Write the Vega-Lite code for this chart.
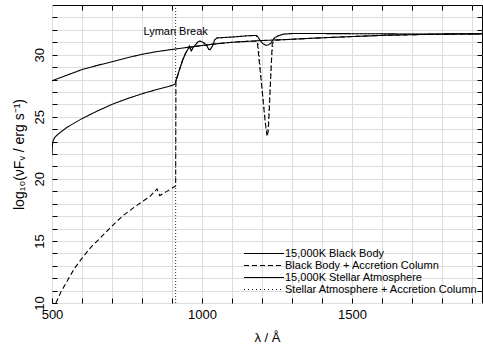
{
  "$schema": "https://vega.github.io/schema/vega-lite/v6.json",
  "width": 430,
  "height": 298,
  "autosize": "none",
  "padding": {"left": 52, "top": 5, "right": 1, "bottom": 47},
  "background": "white",
  "config": {
    "view": {"stroke": "black", "strokeWidth": 1},
    "font": "Liberation Sans",
    "axis": {"domain": false, "labelColor": "black", "titleColor": "black", "labelFont": "Liberation Sans", "titleFont": "Liberation Sans", "titleFontWeight": "normal", "labelFontSize": 13, "titleFontSize": 13}
  },
  "datasets": {
    "spectra": [
      {"lambda": 500, "flux": 27.9, "series": "15,000K Black Body"},
      {"lambda": 550, "flux": 28.35, "series": "15,000K Black Body"},
      {"lambda": 600, "flux": 28.8, "series": "15,000K Black Body"},
      {"lambda": 650, "flux": 29.13, "series": "15,000K Black Body"},
      {"lambda": 700, "flux": 29.43, "series": "15,000K Black Body"},
      {"lambda": 750, "flux": 29.75, "series": "15,000K Black Body"},
      {"lambda": 800, "flux": 30.03, "series": "15,000K Black Body"},
      {"lambda": 850, "flux": 30.25, "series": "15,000K Black Body"},
      {"lambda": 900, "flux": 30.42, "series": "15,000K Black Body"},
      {"lambda": 950, "flux": 30.58, "series": "15,000K Black Body"},
      {"lambda": 1000, "flux": 30.74, "series": "15,000K Black Body"},
      {"lambda": 1050, "flux": 30.88, "series": "15,000K Black Body"},
      {"lambda": 1100, "flux": 31.0, "series": "15,000K Black Body"},
      {"lambda": 1150, "flux": 31.07, "series": "15,000K Black Body"},
      {"lambda": 1200, "flux": 31.14, "series": "15,000K Black Body"},
      {"lambda": 1250, "flux": 31.19, "series": "15,000K Black Body"},
      {"lambda": 1300, "flux": 31.24, "series": "15,000K Black Body"},
      {"lambda": 1400, "flux": 31.36, "series": "15,000K Black Body"},
      {"lambda": 1500, "flux": 31.46, "series": "15,000K Black Body"},
      {"lambda": 1600, "flux": 31.55, "series": "15,000K Black Body"},
      {"lambda": 1700, "flux": 31.61, "series": "15,000K Black Body"},
      {"lambda": 1800, "flux": 31.65, "series": "15,000K Black Body"},
      {"lambda": 1933, "flux": 31.68, "series": "15,000K Black Body"},

      {"lambda": 513, "flux": 10.0, "series": "Black Body + Accretion Column"},
      {"lambda": 530, "flux": 10.9, "series": "Black Body + Accretion Column"},
      {"lambda": 549, "flux": 11.7, "series": "Black Body + Accretion Column"},
      {"lambda": 575, "flux": 12.8, "series": "Black Body + Accretion Column"},
      {"lambda": 604, "flux": 13.73, "series": "Black Body + Accretion Column"},
      {"lambda": 630, "flux": 14.5, "series": "Black Body + Accretion Column"},
      {"lambda": 659, "flux": 15.2, "series": "Black Body + Accretion Column"},
      {"lambda": 690, "flux": 15.95, "series": "Black Body + Accretion Column"},
      {"lambda": 715, "flux": 16.56, "series": "Black Body + Accretion Column"},
      {"lambda": 740, "flux": 17.1, "series": "Black Body + Accretion Column"},
      {"lambda": 770, "flux": 17.64, "series": "Black Body + Accretion Column"},
      {"lambda": 800, "flux": 18.15, "series": "Black Body + Accretion Column"},
      {"lambda": 826, "flux": 18.57, "series": "Black Body + Accretion Column"},
      {"lambda": 850, "flux": 19.19, "series": "Black Body + Accretion Column"},
      {"lambda": 859, "flux": 18.65, "series": "Black Body + Accretion Column"},
      {"lambda": 880, "flux": 18.95, "series": "Black Body + Accretion Column"},
      {"lambda": 909, "flux": 19.38, "series": "Black Body + Accretion Column"},
      {"lambda": 912, "flux": 19.42, "series": "Black Body + Accretion Column"},
      {"lambda": 913, "flux": 27.8, "series": "Black Body + Accretion Column"},
      {"lambda": 925, "flux": 28.8, "series": "Black Body + Accretion Column"},
      {"lambda": 936, "flux": 29.6, "series": "Black Body + Accretion Column"},
      {"lambda": 945, "flux": 30.1, "series": "Black Body + Accretion Column"},
      {"lambda": 952, "flux": 30.4, "series": "Black Body + Accretion Column"},
      {"lambda": 960, "flux": 30.6, "series": "Black Body + Accretion Column"},
      {"lambda": 1000, "flux": 30.74, "series": "Black Body + Accretion Column"},
      {"lambda": 1050, "flux": 30.88, "series": "Black Body + Accretion Column"},
      {"lambda": 1100, "flux": 31.0, "series": "Black Body + Accretion Column"},
      {"lambda": 1150, "flux": 31.07, "series": "Black Body + Accretion Column"},
      {"lambda": 1184, "flux": 31.1, "series": "Black Body + Accretion Column"},
      {"lambda": 1190, "flux": 29.6, "series": "Black Body + Accretion Column"},
      {"lambda": 1200, "flux": 27.2, "series": "Black Body + Accretion Column"},
      {"lambda": 1210, "flux": 24.7, "series": "Black Body + Accretion Column"},
      {"lambda": 1217, "flux": 23.4, "series": "Black Body + Accretion Column"},
      {"lambda": 1221, "flux": 23.9, "series": "Black Body + Accretion Column"},
      {"lambda": 1225, "flux": 26.0, "series": "Black Body + Accretion Column"},
      {"lambda": 1230, "flux": 28.8, "series": "Black Body + Accretion Column"},
      {"lambda": 1234, "flux": 30.9, "series": "Black Body + Accretion Column"},
      {"lambda": 1245, "flux": 31.17, "series": "Black Body + Accretion Column"},
      {"lambda": 1300, "flux": 31.24, "series": "Black Body + Accretion Column"},
      {"lambda": 1400, "flux": 31.36, "series": "Black Body + Accretion Column"},
      {"lambda": 1500, "flux": 31.46, "series": "Black Body + Accretion Column"},
      {"lambda": 1600, "flux": 31.55, "series": "Black Body + Accretion Column"},
      {"lambda": 1700, "flux": 31.61, "series": "Black Body + Accretion Column"},
      {"lambda": 1800, "flux": 31.65, "series": "Black Body + Accretion Column"},
      {"lambda": 1933, "flux": 31.68, "series": "Black Body + Accretion Column"},

      {"lambda": 500, "flux": 21.9, "series": "15,000K Stellar Atmosphere"},
      {"lambda": 501, "flux": 22.6, "series": "15,000K Stellar Atmosphere"},
      {"lambda": 503, "flux": 23.0, "series": "15,000K Stellar Atmosphere"},
      {"lambda": 508, "flux": 23.3, "series": "15,000K Stellar Atmosphere"},
      {"lambda": 520, "flux": 23.6, "series": "15,000K Stellar Atmosphere"},
      {"lambda": 550, "flux": 24.15, "series": "15,000K Stellar Atmosphere"},
      {"lambda": 600, "flux": 24.85, "series": "15,000K Stellar Atmosphere"},
      {"lambda": 650, "flux": 25.45, "series": "15,000K Stellar Atmosphere"},
      {"lambda": 700, "flux": 26.0, "series": "15,000K Stellar Atmosphere"},
      {"lambda": 750, "flux": 26.45, "series": "15,000K Stellar Atmosphere"},
      {"lambda": 800, "flux": 26.85, "series": "15,000K Stellar Atmosphere"},
      {"lambda": 850, "flux": 27.2, "series": "15,000K Stellar Atmosphere"},
      {"lambda": 900, "flux": 27.52, "series": "15,000K Stellar Atmosphere"},
      {"lambda": 910, "flux": 27.62, "series": "15,000K Stellar Atmosphere"},
      {"lambda": 914, "flux": 28.0, "series": "15,000K Stellar Atmosphere"},
      {"lambda": 925, "flux": 28.8, "series": "15,000K Stellar Atmosphere"},
      {"lambda": 936, "flux": 29.6, "series": "15,000K Stellar Atmosphere"},
      {"lambda": 945, "flux": 30.1, "series": "15,000K Stellar Atmosphere"},
      {"lambda": 952, "flux": 30.4, "series": "15,000K Stellar Atmosphere"},
      {"lambda": 958, "flux": 30.7, "series": "15,000K Stellar Atmosphere"},
      {"lambda": 964, "flux": 30.3, "series": "15,000K Stellar Atmosphere"},
      {"lambda": 970, "flux": 30.55, "series": "15,000K Stellar Atmosphere"},
      {"lambda": 975, "flux": 30.7, "series": "15,000K Stellar Atmosphere"},
      {"lambda": 985, "flux": 31.0, "series": "15,000K Stellar Atmosphere"},
      {"lambda": 992, "flux": 31.1, "series": "15,000K Stellar Atmosphere"},
      {"lambda": 1003, "flux": 31.0, "series": "15,000K Stellar Atmosphere"},
      {"lambda": 1014, "flux": 30.8, "series": "15,000K Stellar Atmosphere"},
      {"lambda": 1022, "flux": 30.45, "series": "15,000K Stellar Atmosphere"},
      {"lambda": 1027, "flux": 30.4, "series": "15,000K Stellar Atmosphere"},
      {"lambda": 1035, "flux": 30.7, "series": "15,000K Stellar Atmosphere"},
      {"lambda": 1042, "flux": 31.2, "series": "15,000K Stellar Atmosphere"},
      {"lambda": 1050, "flux": 31.35, "series": "15,000K Stellar Atmosphere"},
      {"lambda": 1100, "flux": 31.42, "series": "15,000K Stellar Atmosphere"},
      {"lambda": 1150, "flux": 31.52, "series": "15,000K Stellar Atmosphere"},
      {"lambda": 1180, "flux": 31.55, "series": "15,000K Stellar Atmosphere"},
      {"lambda": 1185, "flux": 31.48, "series": "15,000K Stellar Atmosphere"},
      {"lambda": 1195, "flux": 31.1, "series": "15,000K Stellar Atmosphere"},
      {"lambda": 1202, "flux": 30.9, "series": "15,000K Stellar Atmosphere"},
      {"lambda": 1213, "flux": 30.75, "series": "15,000K Stellar Atmosphere"},
      {"lambda": 1222, "flux": 30.8, "series": "15,000K Stellar Atmosphere"},
      {"lambda": 1230, "flux": 30.95, "series": "15,000K Stellar Atmosphere"},
      {"lambda": 1241, "flux": 31.35, "series": "15,000K Stellar Atmosphere"},
      {"lambda": 1252, "flux": 31.5, "series": "15,000K Stellar Atmosphere"},
      {"lambda": 1270, "flux": 31.65, "series": "15,000K Stellar Atmosphere"},
      {"lambda": 1300, "flux": 31.7, "series": "15,000K Stellar Atmosphere"},
      {"lambda": 1400, "flux": 31.7, "series": "15,000K Stellar Atmosphere"},
      {"lambda": 1500, "flux": 31.69, "series": "15,000K Stellar Atmosphere"},
      {"lambda": 1600, "flux": 31.68, "series": "15,000K Stellar Atmosphere"},
      {"lambda": 1700, "flux": 31.66, "series": "15,000K Stellar Atmosphere"},
      {"lambda": 1800, "flux": 31.67, "series": "15,000K Stellar Atmosphere"},
      {"lambda": 1933, "flux": 31.68, "series": "15,000K Stellar Atmosphere"},

      {"lambda": 913, "flux": 27.9, "series": "Stellar Atmosphere + Accretion Column"},
      {"lambda": 925, "flux": 28.8, "series": "Stellar Atmosphere + Accretion Column"},
      {"lambda": 936, "flux": 29.6, "series": "Stellar Atmosphere + Accretion Column"},
      {"lambda": 945, "flux": 30.1, "series": "Stellar Atmosphere + Accretion Column"},
      {"lambda": 952, "flux": 30.4, "series": "Stellar Atmosphere + Accretion Column"},
      {"lambda": 958, "flux": 30.7, "series": "Stellar Atmosphere + Accretion Column"},
      {"lambda": 964, "flux": 30.3, "series": "Stellar Atmosphere + Accretion Column"},
      {"lambda": 970, "flux": 30.55, "series": "Stellar Atmosphere + Accretion Column"},
      {"lambda": 975, "flux": 30.7, "series": "Stellar Atmosphere + Accretion Column"},
      {"lambda": 985, "flux": 31.0, "series": "Stellar Atmosphere + Accretion Column"},
      {"lambda": 992, "flux": 31.1, "series": "Stellar Atmosphere + Accretion Column"},
      {"lambda": 1003, "flux": 31.0, "series": "Stellar Atmosphere + Accretion Column"},
      {"lambda": 1014, "flux": 30.8, "series": "Stellar Atmosphere + Accretion Column"},
      {"lambda": 1022, "flux": 30.45, "series": "Stellar Atmosphere + Accretion Column"},
      {"lambda": 1027, "flux": 30.4, "series": "Stellar Atmosphere + Accretion Column"},
      {"lambda": 1035, "flux": 30.7, "series": "Stellar Atmosphere + Accretion Column"},
      {"lambda": 1042, "flux": 31.2, "series": "Stellar Atmosphere + Accretion Column"},
      {"lambda": 1050, "flux": 31.35, "series": "Stellar Atmosphere + Accretion Column"},
      {"lambda": 1100, "flux": 31.42, "series": "Stellar Atmosphere + Accretion Column"},
      {"lambda": 1150, "flux": 31.52, "series": "Stellar Atmosphere + Accretion Column"},
      {"lambda": 1180, "flux": 31.55, "series": "Stellar Atmosphere + Accretion Column"},
      {"lambda": 1186, "flux": 31.2, "series": "Stellar Atmosphere + Accretion Column"},
      {"lambda": 1195, "flux": 28.7, "series": "Stellar Atmosphere + Accretion Column"},
      {"lambda": 1205, "flux": 26.0, "series": "Stellar Atmosphere + Accretion Column"},
      {"lambda": 1213, "flux": 24.0, "series": "Stellar Atmosphere + Accretion Column"},
      {"lambda": 1216, "flux": 23.7, "series": "Stellar Atmosphere + Accretion Column"},
      {"lambda": 1220, "flux": 24.2, "series": "Stellar Atmosphere + Accretion Column"},
      {"lambda": 1226, "flux": 27.0, "series": "Stellar Atmosphere + Accretion Column"},
      {"lambda": 1232, "flux": 29.8, "series": "Stellar Atmosphere + Accretion Column"},
      {"lambda": 1238, "flux": 31.2, "series": "Stellar Atmosphere + Accretion Column"},
      {"lambda": 1252, "flux": 31.5, "series": "Stellar Atmosphere + Accretion Column"},
      {"lambda": 1270, "flux": 31.65, "series": "Stellar Atmosphere + Accretion Column"},
      {"lambda": 1300, "flux": 31.7, "series": "Stellar Atmosphere + Accretion Column"},
      {"lambda": 1400, "flux": 31.7, "series": "Stellar Atmosphere + Accretion Column"},
      {"lambda": 1500, "flux": 31.69, "series": "Stellar Atmosphere + Accretion Column"},
      {"lambda": 1600, "flux": 31.68, "series": "Stellar Atmosphere + Accretion Column"},
      {"lambda": 1700, "flux": 31.66, "series": "Stellar Atmosphere + Accretion Column"},
      {"lambda": 1800, "flux": 31.67, "series": "Stellar Atmosphere + Accretion Column"},
      {"lambda": 1933, "flux": 31.68, "series": "Stellar Atmosphere + Accretion Column"}
    ],
    "marker": [
      {"lambda": 912, "label": "Lyman Break"}
    ]
  },
  "layer": [
    {
      "data": {"name": "spectra"},
      "mark": {"type": "line", "color": "black", "strokeWidth": 1.1, "clip": true},
      "encoding": {
        "x": {
          "field": "lambda", "type": "quantitative",
          "scale": {"domain": [500, 1933], "nice": false, "zero": false},
          "axis": {
            "orient": "bottom", "format": "d",
            "values": [500, 600, 700, 800, 900, 1000, 1100, 1200, 1300, 1400, 1500, 1600, 1700, 1800, 1900],
            "labelExpr": "datum.value % 500 === 0 ? datum.label : ''",
            "offset": -5, "ticks": true, "tickSize": 5, "tickColor": "#000000",
            "labelPadding": 5, "labelFlush": false, "labelOverlap": false,
            "title": "λ / Å", "titlePadding": 10
          }
        },
        "y": {
          "field": "flux", "type": "quantitative",
          "scale": {"domain": [10, 34], "nice": false, "zero": false},
          "axis": {
            "orient": "left", "format": "d",
            "values": [10, 11, 12, 13, 14, 15, 16, 17, 18, 19, 20, 21, 22, 23, 24, 25, 26, 27, 28, 29, 30, 31, 32, 33],
            "labelExpr": "datum.value % 5 === 0 ? datum.label : ''",
            "offset": -5, "ticks": true, "tickSize": 5, "tickColor": "#000000",
            "labelAngle": 270, "labelAlign": "center", "labelBaseline": "bottom",
            "labelPadding": 6, "labelFlush": false, "labelOverlap": false,
            "title": "log₁₀(νFᵥ / erg s⁻¹)", "titleFontSize": 14, "titlePadding": 7
          }
        },
        "strokeDash": {
          "field": "series", "type": "nominal",
          "scale": {
            "domain": ["15,000K Black Body", "Black Body + Accretion Column", "15,000K Stellar Atmosphere", "Stellar Atmosphere + Accretion Column"],
            "range": [[1, 0], [5, 3], [1, 0], [1, 3]]
          },
          "legend": {
            "orient": "none", "legendX": 186, "legendY": 242.5, "title": null,
            "symbolType": "M0,0H8", "symbolSize": 100, "symbolStrokeWidth": 1.1,
            "symbolStrokeColor": "black", "labelFontSize": 11, "labelOffset": 35, "labelLimit": 0,
            "rowPadding": 1, "labelFont": "Liberation Sans", "labelColor": "black", "padding": 0
          }
        }
      }
    },
    {
      "data": {"name": "marker"},
      "mark": {"type": "rule", "strokeDash": [1, 2], "color": "#333333", "strokeWidth": 1},
      "encoding": {
        "x": {
          "field": "lambda", "type": "quantitative",
          "axis": {
            "orient": "top", "labels": false, "title": null, "offset": -5,
            "ticks": true, "tickSize": 5, "tickColor": "#000000",
            "values": [600, 700, 800, 900, 1000, 1100, 1200, 1300, 1400, 1500, 1600, 1700, 1800, 1900]
          }
        }
      }
    },
    {
      "data": {"name": "marker"},
      "mark": {"type": "text", "font": "Liberation Sans", "fontSize": 11, "color": "black", "align": "center", "baseline": "middle"},
      "encoding": {
        "x": {"field": "lambda", "type": "quantitative", "axis": null},
        "y": {
          "datum": 31.85, "type": "quantitative",
          "axis": {
            "orient": "right", "labels": false, "title": null, "offset": -5,
            "ticks": true, "tickSize": 5, "tickColor": "#000000",
            "values": [11, 12, 13, 14, 15, 16, 17, 18, 19, 20, 21, 22, 23, 24, 25, 26, 27, 28, 29, 30, 31, 32, 33]
          }
        },
        "text": {"field": "label"}
      }
    }
  ],
  "resolve": {"axis": {"x": "independent", "y": "independent"}}
}
